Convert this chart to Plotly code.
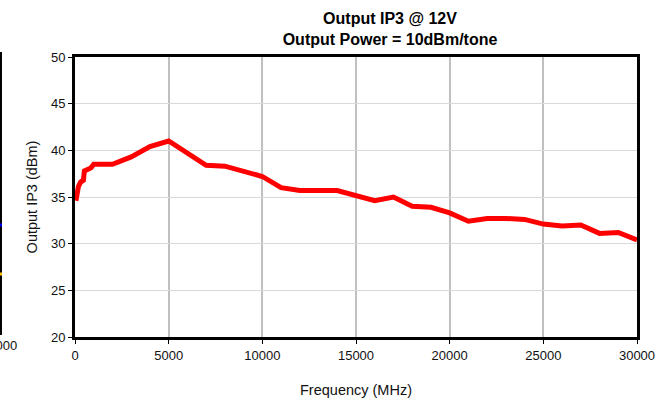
import plotly.graph_objects as go

freq_mhz = [50, 180, 300, 450, 500, 700, 840, 1000, 2000, 3000, 4000, 5000, 6000,
            7000, 8000, 9000, 10000, 11000, 12000, 14000, 15000, 16000, 17000,
            18000, 19000, 20000, 21000, 22000, 23000, 24000, 25000, 26000,
            27000, 28000, 29000, 30000]
oip3_dbm = [34.6, 36.1, 36.6, 36.8, 37.8, 37.9, 38.1, 38.5, 38.5, 39.3, 40.4, 41.0, 39.7,
            38.4, 38.3, 37.7, 37.2, 36.0, 35.7, 35.7, 35.2, 34.6, 35.0,
            34.0, 33.9, 33.3, 32.4, 32.7, 32.7, 32.6, 32.1, 31.9,
            32.0, 31.1, 31.2, 30.4]

x_ticks = [0, 5000, 10000, 15000, 20000, 25000, 30000]
y_ticks = [20, 25, 30, 35, 40, 45, 50]

FONT = "Liberation Sans, Arial, sans-serif"

fig = go.Figure()
fig.add_trace(go.Scatter(x=freq_mhz, y=oip3_dbm, mode="lines",
                         line=dict(color="#ff0000", width=5), showlegend=False))

fig.update_layout(
    width=665, height=400,
    margin=dict(l=75, r=28, t=57, b=63, autoexpand=False),
    paper_bgcolor="white", plot_bgcolor="white",
    font=dict(family=FONT, size=13, color="#111"),
    title=dict(text="Output IP3 @ 12V<br>Output Power = 10dBm/tone",
               x=0.5605, xref="paper", xanchor="center",
               y=0.94, yref="container", yanchor="top",
               font=dict(family=FONT, size=16, color="black", weight="bold")),
    xaxis=dict(range=[0, 30000], tickvals=x_ticks, ticktext=[str(v) for v in x_ticks],
               automargin=False,
               showgrid=True, gridcolor="#c0c0c0", gridwidth=2,
               showline=True, linecolor="black", linewidth=3, mirror=True,
               ticks="outside", ticklen=4, tickcolor="black", tickwidth=1,
               zeroline=False,
               title=dict(text="Frequency (MHz)", font=dict(size=14.5), standoff=24),
               tickfont=dict(size=13)),
    yaxis=dict(range=[20, 50], tickvals=y_ticks, automargin=False,
               showgrid=True, gridcolor="#d9d9d9", gridwidth=1,
               showline=True, linecolor="black", linewidth=3, mirror=True,
               ticks="outside", ticklen=4, tickcolor="black", tickwidth=1,
               zeroline=False,
               title=dict(text="Output IP3 (dBm)", font=dict(size=14.5), standoff=10),
               tickfont=dict(size=13)),
)

# Edge of neighbouring chart visible at the left of the reference image
fig.add_shape(type="line", xref="paper", yref="paper", x0=-0.1317, x1=-0.1317,
              y0=0.007, y1=1.018, line=dict(color="black", width=2))
fig.add_shape(type="line", xref="paper", yref="paper", x0=-0.1335, x1=-0.1299,
              y0=0.40, y1=0.40, line=dict(color="#0000ff", width=3))
fig.add_shape(type="line", xref="paper", yref="paper", x0=-0.1335, x1=-0.1299,
              y0=0.225, y1=0.225, line=dict(color="#ffc000", width=3))
fig.add_annotation(text="30000", xref="paper", yref="paper", x=-0.0996, y=-0.0286,
                   xanchor="right", yanchor="middle", showarrow=False,
                   font=dict(family=FONT, size=13, color="#111"))

fig.write_html("out.html",
               config={"displayModeBar": False},
               post_script="document.body.style.margin='0';"
                           "document.body.style.padding='0';"
                           "document.body.style.overflow='hidden';")
